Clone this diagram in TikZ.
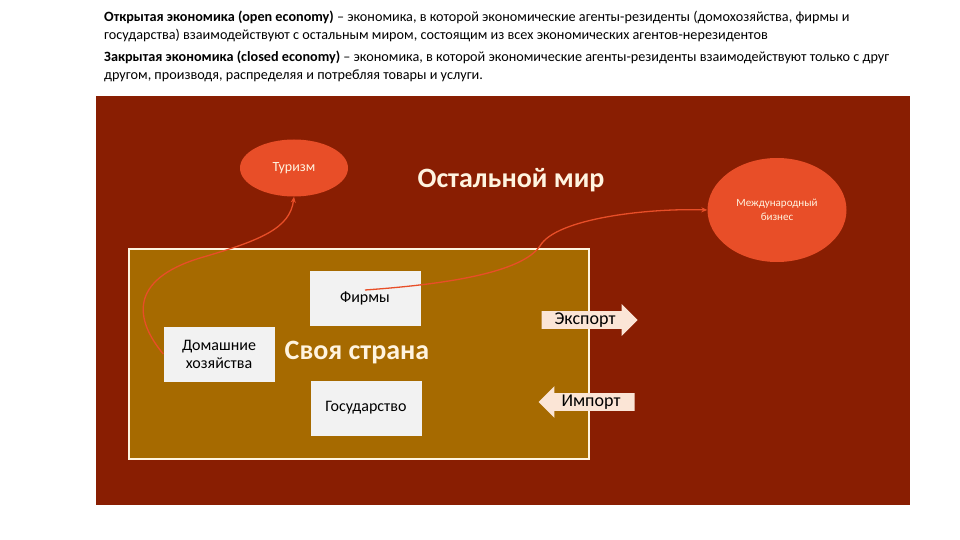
\documentclass[tikz,border=0pt]{standalone}
\usepackage{fontspec}
\setmainfont{Carlito}
\usepackage{tikz}
\usetikzlibrary{shapes.geometric,shapes.arrows,arrows.meta,calc}
\definecolor{worldred}{RGB}{137,30,2}
\definecolor{homegold}{RGB}{166,106,0}
\definecolor{blobred}{RGB}{232,78,40}
\definecolor{boxgrey}{RGB}{242,242,242}
\definecolor{peach}{RGB}{251,229,214}
\definecolor{cream}{RGB}{255,244,224}

\begin{document}
\begin{tikzpicture}[x=1pt, y=-1pt, font=\fontsize{16}{18}\selectfont, box/.style={fill=boxgrey, align=center, minimum width=111pt, minimum height=55pt, inner sep=2pt}, blob/.style={ellipse, fill=blobred, text=cream, align=center, inner sep=0pt}, big/.style={text=cream, font=\fontsize{28}{32}\selectfont\bfseries}, flow/.style={draw=blobred, line width=1.3pt, -{Stealth[length=6pt,width=5pt]}}, trade/.style={single arrow, fill=peach, single arrow head extend=7pt, minimum height=96pt, inner xsep=3pt, inner ysep=1.5pt, font=\fontsize{18}{19}\selectfont}, note/.style={anchor=north west, align=left, inner sep=0pt, font=\fontsize{14.2}{18}\selectfont}]
\useasboundingbox (0,0) rectangle (960,540);
\node[note] (openeco) at (104,11) {\textbf{Открытая экономика (open economy)} -- экономика, в которой экономические агенты-резиденты (домохозяйства, фирмы и\\государства) взаимодействуют с остальным миром, состоящим из всех экономических агентов-нерезидентов};
\node[note] (closedeco) at (104,51) {\textbf{Закрытая экономика (closed economy)} -- экономика, в которой экономические агенты-резиденты взаимодействуют только с друг\\другом, производя, распределяя и потребляя товары и услуги.};
\node[fill=worldred, minimum width=814pt, minimum height=409pt, inner sep=0pt, anchor=north west] (world) at (96,96) {};
\node[fill=homegold, draw=cream, line width=1.5pt, minimum width=460pt, minimum height=210pt, inner sep=0pt, anchor=north west] (home) at (128,248) {};
\node[blob, minimum width=108pt, minimum height=57pt, font=\fontsize{14}{16}\selectfont] (tour) at (294,168) {\raisebox{-2pt}{Туризм}};
\node[blob, minimum width=139pt, minimum height=104pt, font=\fontsize{11}{14}\selectfont] (biz) at (777,210) {Международный\\бизнес};
\node[big] (rest) at (511,180) {Остальной мир};
\node[big] (own) at (357,353) {Своя страна};
\node[box] (firms) at (365,298) {Фирмы};
\node[box] (hh) at (219,354) {Домашние\\хозяйства};
\node[box] (state) at (366,408) {Государство};
\node[trade] (exp) at (585,320) {Экспорт};
\node[trade, shape border rotate=180] (imp) at (591,402) {\raisebox{3pt}{Импорт}};
\draw[flow] (hh.west) .. controls (135,320) and (128,280) .. (200,258) .. controls (262,240) and (290,228) .. (tour.south);
\draw[flow] ([yshift=8pt]firms.center) .. controls (450,284) and (522,272) .. (540,246) .. controls (556,218) and (650,208) .. (biz.west);
\end{tikzpicture}
\end{document}
